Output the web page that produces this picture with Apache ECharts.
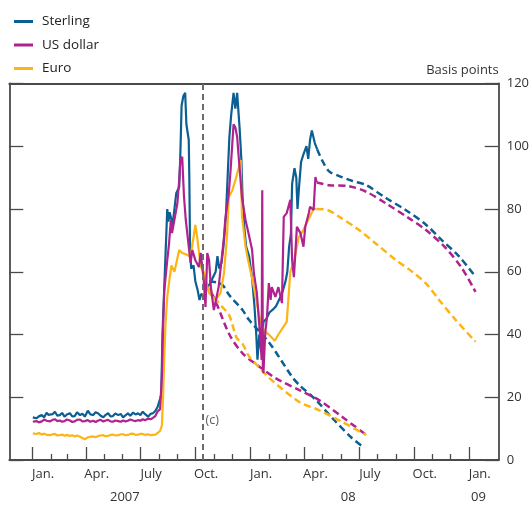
<!DOCTYPE html>
<html>
<head>
<meta charset="utf-8">
<script src="https://cdn.jsdelivr.net/npm/echarts@6/dist/echarts.min.js"></script>
<style>
html,body{margin:0;padding:0;background:#fff;}
#chart{width:532px;height:506px;}
</style>
</head>
<body>
<div id="chart"></div>
<script>
// ---------- DATA ----------
const seriesNames = ['Sterling', 'US dollar', 'Euro'];

const sterling = [
['2007-01-02',13.6],['2007-01-05',14.2],['2007-01-08',13.3],['2007-01-12',13.9],['2007-01-17',14.3],['2007-01-21',13.6],
['2007-01-25',15.1],['2007-01-28',14.4],['2007-01-31',13.8],['2007-02-04',14.6],['2007-02-08',15.4],['2007-02-12',14.1],
['2007-02-16',14.3],['2007-02-20',15.0],['2007-02-24',13.8],['2007-02-28',14.5],['2007-03-05',14.9],['2007-03-09',13.9],
['2007-03-13',14.0],['2007-03-17',15.2],['2007-03-22',14.3],['2007-03-26',14.8],['2007-03-30',13.8],['2007-04-04',15.7],
['2007-04-08',14.6],['2007-04-13',14.3],['2007-04-17',15.2],['2007-04-21',14.9],['2007-04-25',14.2],['2007-04-30',13.6],
['2007-05-04',14.4],['2007-05-08',14.9],['2007-05-12',13.9],['2007-05-16',14.0],['2007-05-20',14.8],['2007-05-25',14.3],
['2007-05-29',14.7],['2007-06-02',13.6],['2007-06-06',14.2],['2007-06-10',14.9],['2007-06-14',14.1],['2007-06-19',15.1],
['2007-06-23',14.5],['2007-06-27',14.9],['2007-07-01',14.3],['2007-07-05',15.4],['2007-07-09',14.6],['2007-07-14',13.8],
['2007-07-18',14.7],['2007-07-22',14.9],['2007-07-26',15.6],['2007-07-30',17.0],['2007-08-03',19.5],['2007-08-05',21],
['2007-08-07',40],['2007-08-10',55],['2007-08-15',80],['2007-08-17',76],['2007-08-19',79],['2007-08-24',75],['2007-08-27',80],['2007-08-30',85],
['2007-09-04',87],['2007-09-06',98],['2007-09-08',113],['2007-09-11',116],['2007-09-14',117],['2007-09-16',107],
['2007-09-20',102],['2007-09-21',89],['2007-09-22',70],['2007-09-24',61],['2007-09-28',62],['2007-10-01',57],
['2007-10-05',54],['2007-10-08',51],['2007-10-11',53],['2007-10-15',52],['2007-10-20',55],['2007-10-25',56],
['2007-10-30',58],['2007-11-04',60],['2007-11-07',65],['2007-11-10',61],['2007-11-14',63],['2007-11-17',68],
['2007-11-21',77],['2007-11-24',90],['2007-11-27',103],['2007-11-30',110],['2007-12-04',117],['2007-12-07',112],
['2007-12-10',117],['2007-12-14',106],['2007-12-17',96],['2007-12-19',84],['2007-12-22',74],['2007-12-25',68],
['2007-12-30',65],['2008-01-04',58],['2008-01-08',49],['2008-01-11',40],['2008-01-13',32],['2008-01-16',40],
['2008-01-19',35],['2008-01-23',44],['2008-01-28',45],['2008-02-02',47],['2008-02-08',48],['2008-02-13',49],
['2008-02-18',51],['2008-02-23',53],['2008-02-29',57],['2008-03-03',60],['2008-03-06',68],['2008-03-09',72],
['2008-03-11',88],['2008-03-15',93],['2008-03-18',90],['2008-03-20',80],['2008-03-23',88],['2008-03-26',95],
['2008-03-31',98],['2008-04-04',100],['2008-04-07',96],['2008-04-10',102],['2008-04-13',105],['2008-04-18',101],
['2008-04-22',99]
];

const usDollar = [
['2007-01-02',12.2],['2007-01-05',12.6],['2007-01-08',12.4],['2007-01-12',12.0],['2007-01-17',12.3],['2007-01-21',12.9],
['2007-01-25',12.5],['2007-01-28',12.1],['2007-01-31',12.3],['2007-02-04',12.8],['2007-02-08',13.0],['2007-02-12',12.4],
['2007-02-16',12.6],['2007-02-20',12.2],['2007-02-24',12.4],['2007-02-28',12.9],['2007-03-05',12.6],['2007-03-09',12.1],
['2007-03-13',12.3],['2007-03-17',12.8],['2007-03-22',12.9],['2007-03-26',12.3],['2007-03-30',12.4],['2007-04-04',12.7],
['2007-04-08',12.2],['2007-04-13',12.5],['2007-04-17',12.1],['2007-04-21',12.5],['2007-04-25',12.8],['2007-04-30',12.3],
['2007-05-04',12.6],['2007-05-08',12.8],['2007-05-12',12.3],['2007-05-16',12.2],['2007-05-20',12.6],['2007-05-25',12.4],
['2007-05-29',12.2],['2007-06-02',12.6],['2007-06-06',12.3],['2007-06-10',12.5],['2007-06-14',12.9],['2007-06-19',12.6],
['2007-06-23',12.4],['2007-06-27',12.7],['2007-07-01',12.5],['2007-07-05',13.0],['2007-07-09',12.7],['2007-07-14',13.2],
['2007-07-18',13.0],['2007-07-22',13.4],['2007-07-26',14.0],['2007-07-30',15.5],['2007-08-03',16.2],['2007-08-06',26.5],
['2007-08-08',42.5],['2007-08-10',54],['2007-08-15',63.7],['2007-08-18',69],['2007-08-21',76.5],['2007-08-23',72.3],
['2007-08-29',78.7],['2007-09-01',81.9],['2007-09-04',89.2],['2007-09-06',95.6],['2007-09-09',96.6],['2007-09-12',84],['2007-09-15',76.5],
['2007-09-20',68],['2007-09-23',62.8],['2007-09-26',66.9],['2007-10-01',63.7],['2007-10-07',61.5],['2007-10-10',66],
['2007-10-15',57.4],['2007-10-18',48.8],['2007-10-21',66],['2007-10-24',63.7],['2007-10-27',55.1],['2007-11-01',47.8],
['2007-11-09',55.1],['2007-11-18',71],['2007-11-20',76.5],['2007-11-26',85],['2007-11-29',92.4],['2007-12-04',107],
['2007-12-07',106],['2007-12-10',103],['2007-12-13',95.6],['2007-12-18',83.8],['2007-12-24',76.5],['2007-12-29',72.3],
['2008-01-04',67],['2008-01-07',59.6],['2008-01-12',53.2],['2008-01-15',45.6],['2008-01-18',38.2],['2008-01-20',31.9],
['2008-01-21',86],['2008-01-22',30],['2008-01-23',27.7],['2008-01-26',40.4],['2008-01-29',45.6],['2008-02-01',56.4],
['2008-02-04',51],['2008-02-06',55.1],['2008-02-12',52],['2008-02-17',55.1],['2008-02-23',50],['2008-02-26',77.5],
['2008-03-02',78.7],['2008-03-08',82.9],['2008-03-11',63.7],['2008-03-14',58.3],['2008-03-19',74.3],['2008-03-25',72.3],
['2008-03-30',68],['2008-04-02',74.3],['2008-04-08',78.7],['2008-04-10',80.7],['2008-04-16',79.7],['2008-04-19',90.2],
['2008-04-21',88.6]
];

const euro = [
['2007-01-02',8.5],['2007-01-05',8.9],['2007-01-08',8.3],['2007-01-12',8.6],['2007-01-17',8.1],['2007-01-21',8.4],
['2007-01-25',8.0],['2007-01-28',8.3],['2007-01-31',7.9],['2007-02-04',8.2],['2007-02-08',8.3],['2007-02-12',7.8],
['2007-02-16',7.9],['2007-02-20',8.1],['2007-02-24',7.7],['2007-02-28',8.0],['2007-03-05',7.7],['2007-03-09',7.9],
['2007-03-13',7.5],['2007-03-17',7.8],['2007-03-22',7.4],['2007-03-26',7.0],['2007-03-30',6.6],['2007-04-04',7.2],
['2007-04-08',7.4],['2007-04-13',7.5],['2007-04-17',7.3],['2007-04-21',7.6],['2007-04-25',7.8],['2007-04-30',7.9],
['2007-05-04',7.6],['2007-05-08',7.7],['2007-05-12',8.0],['2007-05-16',8.1],['2007-05-20',7.8],['2007-05-25',7.9],
['2007-05-29',8.2],['2007-06-02',8.2],['2007-06-06',7.9],['2007-06-10',8.0],['2007-06-14',8.3],['2007-06-19',8.4],
['2007-06-23',8.0],['2007-06-27',8.1],['2007-07-01',8.3],['2007-07-05',8.3],['2007-07-09',8.0],['2007-07-14',8.2],
['2007-07-18',7.9],['2007-07-22',8.0],['2007-07-26',8.1],['2007-07-30',8.6],['2007-08-03',9.3],['2007-08-06',11],
['2007-08-08',20],['2007-08-10',33],['2007-08-12',43],['2007-08-15',52],['2007-08-19',58],['2007-08-22',62],
['2007-08-27',60],['2007-09-04',66.9],['2007-09-09',66],['2007-09-16',65.5],['2007-09-23',64.8],['2007-09-29',72.3],
['2007-10-01',74.9],['2007-10-04',71.2],['2007-10-10',61.6],['2007-10-15',60],['2007-10-18',57.4],['2007-10-24',53.2],
['2007-11-04',51],['2007-11-12',53.2],['2007-11-18',59.6],['2007-11-23',71.2],['2007-11-26',83.8],['2007-12-02',86],
['2007-12-07',89.2],['2007-12-13',93.4],['2007-12-16',95.6],['2007-12-18',78],['2007-12-24',68],['2007-12-29',63],
['2008-01-04',58],['2008-01-12',50],['2008-01-18',44],['2008-01-25',41],['2008-02-01',40],['2008-02-11',38],
['2008-02-17',40],['2008-02-24',42],['2008-03-02',44],['2008-03-05',52],['2008-03-08',60],['2008-03-15',64],
['2008-03-22',71],['2008-03-29',73],['2008-04-08',77],['2008-04-16',80],['2008-04-21',80]
];

// forward curves from April 2008 (dashed)
const sterlingFwdApr08 = [
['2008-04-22',99],['2008-04-30',95.6],['2008-05-12',92],['2008-05-29',90.5],['2008-06-19',89],['2008-07-13',87.6],
['2008-08-15',83.5],['2008-09-17',79.7],['2008-10-21',75],['2008-11-17',70],['2008-12-15',65],['2009-01-12',58.4]
];
const usDollarFwdApr08 = [
['2008-04-21',88.5],['2008-05-12',87.6],['2008-06-14',87.3],['2008-07-13',85.5],['2008-08-15',81.8],['2008-09-23',77],
['2008-10-21',73.3],['2008-11-23',67.6],['2008-12-20',61.2],['2009-01-12',53.6]
];
const euroFwdApr08 = [
['2008-04-21',80],['2008-05-09',79.7],['2008-05-29',77.5],['2008-07-01',73.3],['2008-07-29',69],['2008-09-01',63.7],
['2008-09-28',60],['2008-10-21',56.3],['2008-11-12',51],['2008-12-10',44.6],['2009-01-12',37.7]
];

// forward curves from autumn 2007 (dashed)
const sterlingFwdOct07 = [
['2007-10-24',57],['2007-11-14',56],['2007-11-27',52.5],['2007-12-19',47.8],['2007-12-30',44.6],['2008-02-02',37.3],
['2008-03-11',26.5],['2008-03-23',23.9],['2008-04-20',19.1],['2008-05-17',13.4],['2008-06-19',7],['2008-07-09',4]
];
const usDollarFwdOct07 = [
['2007-10-15',56],['2007-10-30',52.6],['2007-11-27',40],['2007-12-19',34],['2008-01-11',30.5],['2008-02-13',26],
['2008-03-23',22.3],['2008-04-25',19.1],['2008-06-03',13.7],['2008-07-13',8]
];
const euroFwdOct07 = [
['2007-10-15',58],['2007-11-01',52],['2007-11-15',48.8],['2007-11-27',46],['2007-12-09',39],['2007-12-19',37],
['2007-12-30',33],['2008-01-11',30.5],['2008-02-02',26.1],['2008-03-23',18.5],['2008-04-25',15.9],['2008-06-03',12.1],
['2008-07-13',8]
];

const markerDate = '2007-10-13';
const markerLabel = '(c)';
const markerLevel = 12.7;

const quarterStarts = ['2007-01-01','2007-04-01','2007-07-01','2007-10-01','2008-01-01','2008-04-01','2008-07-01','2008-10-01','2009-01-01'];
const quarterLabels = ['Jan.','Apr.','July','Oct.','Jan.','Apr.','July','Oct.','Jan.'];
const minorMonths = ['2007-02-01','2007-03-01','2007-05-01','2007-06-01','2007-08-01','2007-09-01','2007-11-01','2007-12-01',
'2008-02-01','2008-03-01','2008-05-01','2008-06-01','2008-08-01','2008-09-01','2008-11-01','2008-12-01'];
const yearLabels = ['2007','08','09'];
const yearAnchors = ['2007-06-05','2008-06-13','2009-01-17'];

// ---------- BUILD ----------
const DAY = 86400000;
const ts = s => { const p = s.split('-').map(Number); return Date.UTC(p[0], p[1]-1, p[2]); };
const pts = arr => arr.map(([d,v]) => [ts(d), v]);
const xMin = ts('2007-01-01') - 38.4*DAY;
const xMax = ts('2007-01-01') + 780.8*DAY;
const qTicks = quarterStarts.map(ts);
const qLabelPos = qTicks.map(t => t + 18*DAY);
const mTicks = minorMonths.map(ts);
const yPos = yearAnchors.map(ts);

const COL = {'Sterling':'#0b5f92', 'US dollar':'#b0238f', 'Euro':'#fdb515'};
const AX = '#4a4a4a';
const FONT = 'Open Sans';

function solid(name, data){
  return {type:'line', name, data:pts(data), showSymbol:false, symbol:'none',
    lineStyle:{color:COL[name], width:2.2}, itemStyle:{color:COL[name]}, z:3};
}
function dashed(name, data){
  return {type:'line', name, data:pts(data), showSymbol:false, symbol:'none', smooth:0.3,
    lineStyle:{color:COL[name], width:2.5, type:[7,4]}, itemStyle:{color:COL[name]}, z:2};
}

const baseX = {type:'value', min:xMin, max:xMax, splitLine:{show:false}, gridIndex:0};

const option = {
  animation:false,
  textStyle:{fontFamily:FONT},
  grid:{left:9.3, right:32, top:83.5, bottom:46},
  legend:{
    data:seriesNames, orient:'vertical', left:9, top:9.5, icon:'rect',
    itemWidth:19, itemHeight:3, itemGap:9.5, selectedMode:false,
    textStyle:{fontFamily:FONT, fontSize:13.5, color:'#222', lineHeight:14, padding:[0,0,0,4]}
  },
  xAxis:[
    Object.assign({}, baseX, {position:'bottom',
      axisLine:{show:true, lineStyle:{color:AX, width:1.8}},
      axisTick:{show:true, inside:true, length:13, customValues:qTicks, lineStyle:{color:AX, width:1.3}},
      axisLabel:{show:true, customValues:qLabelPos, margin:8, color:'#333', fontSize:13, fontFamily:FONT,
        formatter:(v)=>{ const i = qLabelPos.indexOf(v); return i>=0 ? quarterLabels[i] : ''; }}
    }),
    Object.assign({}, baseX, {position:'bottom',
      axisLine:{show:false},
      axisTick:{show:true, inside:true, length:6, customValues:mTicks, lineStyle:{color:AX, width:1.3}},
      axisLabel:{show:false}
    }),
    Object.assign({}, baseX, {position:'bottom',
      axisLine:{show:false}, axisTick:{show:false},
      axisLabel:{show:true, customValues:yPos, margin:31, color:'#333', fontSize:13, fontFamily:FONT,
        formatter:(v)=>{ const i = yPos.indexOf(v); return i>=0 ? yearLabels[i] : ''; }}
    }),
    Object.assign({}, baseX, {position:'top',
      axisLine:{show:true, lineStyle:{color:AX, width:1.8}}, axisTick:{show:false}, axisLabel:{show:false}
    })
  ],
  yAxis:[
    {type:'value', position:'right', min:0, max:120, interval:20,
      name:'Basis points', nameLocation:'end', nameGap:13,
      nameTextStyle:{align:'right', verticalAlign:'middle', color:'#333', fontSize:13, fontFamily:FONT},
      axisLine:{show:true, lineStyle:{color:AX, width:1.8}},
      axisTick:{show:true, inside:true, length:14, lineStyle:{color:AX, width:1.3}},
      axisLabel:{show:true, margin:8, color:'#333', fontSize:13, fontFamily:FONT},
      splitLine:{show:false}},
    {type:'value', position:'left', min:0, max:120, interval:20,
      axisLine:{show:true, lineStyle:{color:AX, width:1.8}},
      axisTick:{show:true, inside:true, length:14, lineStyle:{color:AX, width:1.3}},
      axisLabel:{show:false}, splitLine:{show:false}}
  ],
  series:[
    dashed('Sterling', sterlingFwdOct07),
    dashed('US dollar', usDollarFwdOct07),
    dashed('Euro', euroFwdOct07),
    dashed('Sterling', sterlingFwdApr08),
    dashed('US dollar', usDollarFwdApr08),
    dashed('Euro', euroFwdApr08),
    solid('Sterling', sterling),
    solid('Euro', euro),
    solid('US dollar', usDollar),
    {type:'scatter', name:'marker', data:[[ts(markerDate), markerLevel]], symbolSize:0.1,
      label:{show:true, position:'right', distance:3, formatter:markerLabel, color:'#333', fontSize:12.5, fontFamily:FONT},
      markLine:{silent:true, symbol:'none', label:{show:false},
        lineStyle:{color:'#6b6b6b', width:2, type:[6,4]},
        data:[{xAxis:ts(markerDate)}]}, z:1}
  ]
};

const chart = echarts.init(document.getElementById('chart'), null, {renderer:'canvas'});
chart.setOption(option);
</script>
</body>
</html>
